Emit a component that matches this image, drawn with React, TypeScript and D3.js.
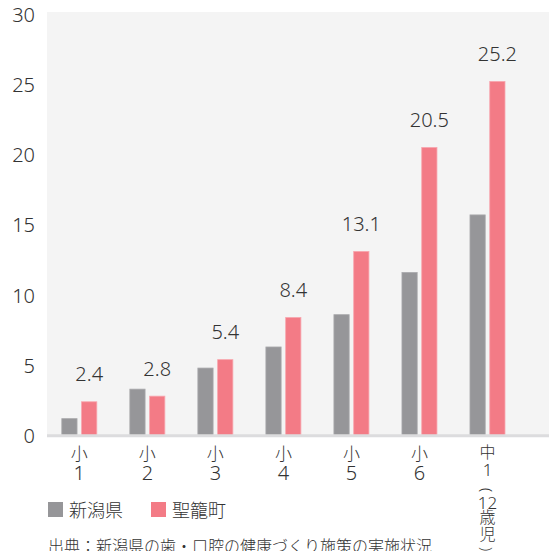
import * as d3 from 'd3'

const categories = ['小1', '小2', '小3', '小4', '小5', '小6', '中1（12歳児）']
// stacked label lines under each group
const categoryLines = [
  ['小', '1'],
  ['小', '2'],
  ['小', '3'],
  ['小', '4'],
  ['小', '5'],
  ['小', '6'],
  ['中', '1', '(', '12', '歳', '児', ')'],
]
const series = ['新潟県', '聖籠町']
const niigata = [1.2, 3.3, 4.8, 6.3, 8.6, 11.6, 15.7]
const seiro = [2.4, 2.8, 5.4, 8.4, 13.1, 20.5, 25.2]
const yTicks = [0, 5, 10, 15, 20, 25, 30]
const source = '出典：新潟県の歯・口腔の健康づくり施策の実施状況'

const W = 549
const H = 551
const colors = ['#969699', '#F37B86']
const strokes = ['#a9a9ac', '#f8a6ae']
const font = "'Noto Sans', 'Noto Sans CJK JP', sans-serif"
const textColor = '#333'

export default function App() {
  const plotLeft = 47
  const plotTop = 12
  const y = d3.scaleLinear().domain([0, 30]).range([435.5, 14])
  const x = d3.scaleBand<string>().domain(categories).range([45.3, 521.5])
  const inner = d3.scaleBand<string>().domain(series).range([-17.5, 17.5]).paddingInner(0.23)
  const data = [niigata, seiro]

  // vertical offsets for stacked label lines
  const lineY = (lines: string[], i: number) => {
    if (lines.length === 2) return y(0) + 17.5 + i * 19.5
    const offs = [16, 33.5, 54.5, 66.5, 81, 98, 113.5]
    return y(0) + offs[i]
  }
  const isDigit = (s: string) => /^[0-9]+$/.test(s)

  return (
    <svg
      width={W}
      height={H}
      style={{ position: 'absolute', left: 0, top: 0, fontFamily: font }}
    >
      <rect x={plotLeft} y={plotTop} width={W - plotLeft} height={y(0) - plotTop} fill="#F4F4F4" />

      {yTicks.map((t) => (
        <text
          key={t}
          x={35}
          y={y(t)}
          textAnchor="end"
          dominantBaseline="central"
          fontSize={20}
          fontWeight={300}
          fill={textColor}
        >
          {t}
        </text>
      ))}

      {categories.map((c, ci) =>
        series.map((s, si) => {
          const v = data[si][ci]
          const bx = (x(c) as number) + x.bandwidth() / 2 + (inner(s) as number)
          return (
            <rect
              key={c + s}
              x={bx}
              y={y(v)}
              width={inner.bandwidth()}
              height={y(0) - y(v)}
              fill={colors[si]}
              stroke={strokes[si]}
              strokeWidth={0.8}
            />
          )
        })
      )}

      <line x1={plotLeft} x2={W} y1={y(0) + 0.2} y2={y(0) + 0.2} stroke="#DCDCDE" strokeWidth={3} />

      {categories.map((c, ci) => {
        const cx =
          (x(c) as number) + x.bandwidth() / 2 + (inner(series[1]) as number) + inner.bandwidth() / 2
        return (
          <text
            key={'v' + c}
            x={cx}
            y={y(seiro[ci]) - 28}
            textAnchor="middle"
            dominantBaseline="central"
            fontSize={20}
            fontWeight={300}
            fill={textColor}
          >
            {seiro[ci].toFixed(1)}
          </text>
        )
      })}

      {categories.map((c, ci) => {
        const cx = (x(c) as number) + x.bandwidth() / 2
        const lines = categoryLines[ci]
        const short = lines.length === 2
        return lines.map((l, li) => {
          const ly = lineY(lines, li)
          const paren = l === '(' || l === ')'
          return (
            <text
              key={c + li}
              x={cx}
              y={ly}
              textAnchor="middle"
              dominantBaseline="central"
              fontSize={short ? (isDigit(l) ? 20 : 17) : paren ? 15 : isDigit(l) ? 17 : 16}
              fontWeight={300}
              fill={textColor}
              transform={paren ? `rotate(90 ${cx} ${ly})` : undefined}
            >
              {l}
            </text>
          )
        })
      })}

      {series.map((s, si) => {
        const lx = 48 + si * 103
        return (
          <g key={s} transform={`translate(${lx},502)`}>
            <rect width={15} height={15} fill={colors[si]} />
            <text x={21} y={7.5} dominantBaseline="central" fontSize={18} fontWeight={300} fill={textColor}>
              {s}
            </text>
          </g>
        )
      })}

      <text x={48} y={552} fontSize={16} fontWeight={300} fill={textColor}>
        {source}
      </text>
    </svg>
  )
}
